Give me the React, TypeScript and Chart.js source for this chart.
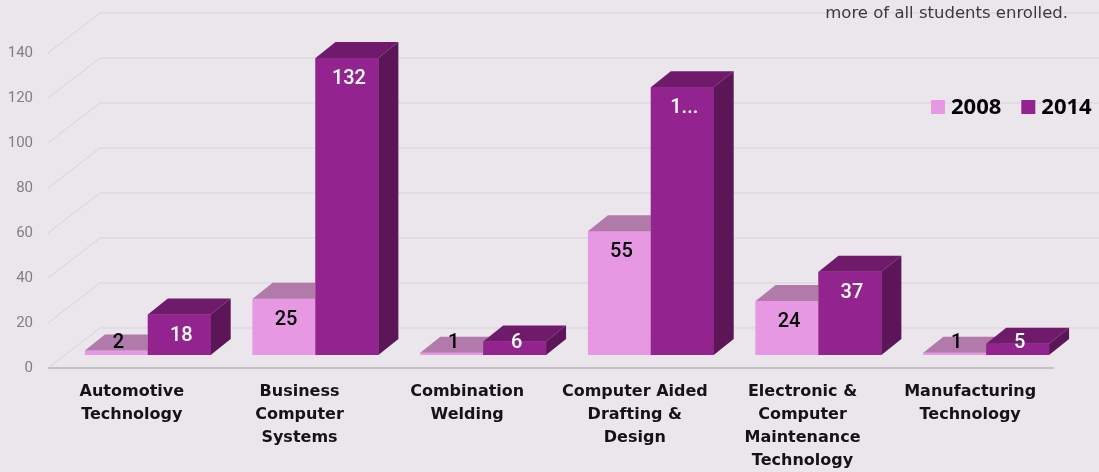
import { useEffect, useRef } from "react";
import { Chart, registerables } from "chart.js";

Chart.register(...registerables);

const categories: string[][] = [
  ["Automotive", "Technology"],
  ["Business", "Computer", "Systems"],
  ["Combination", "Welding"],
  ["Computer Aided", "Drafting &", "Design"],
  ["Electronic &", "Computer", "Maintenance", "Technology"],
  ["Manufacturing", "Technology"],
];
const seriesNames = ["2008", "2014"];
const values2008 = [2, 25, 1, 55, 24, 1];
const values2014 = [18, 132, 6, 119, 37, 5];
const labels2008 = ["2", "25", "1", "55", "24", "1"];
const labels2014 = ["18", "132", "6", "1...", "37", "5"];
const yMin = 0;
const yMax = 140;
const yStep = 20;
const subtitle = "more of all students enrolled.";

const BG = "#eae6ec";
const FRONT = ["#e699e2", "#93248f"];
const TOP = ["#b27aab", "#701a6c"];
const SIDE = ["#9b5e94", "#5c1658"];
const LABEL_COLOR = ["#000000", "#ffffff"];

// oblique depth of bars
const DX = 20;
const DY = 16;
// offsets of front plane and back wall relative to the bar plane
const FRONT_DX = -16;
const FRONT_DY = 13;
const BACK_DX = 36;
const BACK_DY = -27;

const threeDPlugin = {
  id: "threeD",
  beforeDraw(chart: any) {
    const { ctx, width, height } = chart;
    ctx.save();
    ctx.fillStyle = BG;
    ctx.fillRect(0, 0, width, height);
    ctx.restore();
  },
  beforeDatasetsDraw(chart: any) {
    const { ctx, chartArea, width } = chart;
    const ys = chart.scales.y;
    ctx.save();
    ctx.lineWidth = 1;
    ctx.strokeStyle = "#d9d3db";
    for (const t of ys.ticks) {
      const yb = ys.getPixelForValue(t.value);
      const fx = chartArea.left + FRONT_DX;
      const fy = yb + FRONT_DY;
      const bx = chartArea.left + BACK_DX;
      const by = yb + BACK_DY;
      ctx.beginPath();
      ctx.moveTo(fx, fy);
      ctx.lineTo(bx, by);
      ctx.lineTo(width, by);
      ctx.stroke();
    }
    // front floor edge
    const y0 = ys.getPixelForValue(0) + FRONT_DY;
    ctx.strokeStyle = "#c4c0c6";
    ctx.lineWidth = 2;
    ctx.beginPath();
    ctx.moveTo(chartArea.left + FRONT_DX, y0);
    ctx.lineTo(chartArea.right + FRONT_DX, y0);
    ctx.stroke();
    ctx.restore();
  },
  afterDatasetsDraw(chart: any) {
    const ctx = chart.ctx;
    const n = chart.data.labels.length;
    const nd = chart.data.datasets.length;
    ctx.save();
    for (let i = 0; i < n; i++) {
      for (let d = 0; d < nd; d++) {
        const bar = chart.getDatasetMeta(d).data[i];
        const { x, y, base, width } = bar.getProps(["x", "y", "base", "width"], true);
        const L = x - width / 2;
        const R = x + width / 2;
        bar.draw(ctx);
        ctx.fillStyle = TOP[d];
        ctx.beginPath();
        ctx.moveTo(L, y);
        ctx.lineTo(R, y);
        ctx.lineTo(R + DX, y - DY);
        ctx.lineTo(L + DX, y - DY);
        ctx.closePath();
        ctx.fill();
        ctx.fillStyle = SIDE[d];
        ctx.beginPath();
        ctx.moveTo(R, y);
        ctx.lineTo(R + DX, y - DY);
        ctx.lineTo(R + DX, base - DY);
        ctx.lineTo(R, base);
        ctx.closePath();
        ctx.fill();
      }
    }
    // data labels
    ctx.font = "500 20px Roboto";
    ctx.textAlign = "center";
    ctx.textBaseline = "middle";
    const labelSets = [labels2008, labels2014];
    for (let d = 0; d < nd; d++) {
      const meta = chart.getDatasetMeta(d);
      meta.data.forEach((bar: any, i: number) => {
        const { x, y, base } = bar.getProps(["x", "y", "base"], true);
        const ly = Math.min(y + 21, base - 12);
        ctx.fillStyle = LABEL_COLOR[d];
        ctx.fillText(labelSets[d][i], x + 2, ly);
      });
    }
    ctx.restore();
  },
  afterDraw(chart: any) {
    const ctx = chart.ctx;
    ctx.save();
    // subtitle
    ctx.font = "16.5px 'DejaVu Sans'";
    ctx.fillStyle = "#3a3a3a";
    ctx.textAlign = "right";
    ctx.textBaseline = "alphabetic";
    ctx.fillText(subtitle, 1068, 18);
    // legend
    ctx.font = "bold 22px 'Open Sans'";
    ctx.textAlign = "left";
    let lx = 931;
    const by = 100;
    chart.data.datasets.forEach((ds: any, d: number) => {
      ctx.fillStyle = ds.backgroundColor;
      ctx.fillRect(lx, by, 14, 14);
      lx += 20;
      ctx.fillStyle = "#000000";
      ctx.fillText(ds.label, lx, by + 14);
      lx += ctx.measureText(ds.label).width + 20;
    });
    ctx.restore();
  },
};

export default function App() {
  const ref = useRef<HTMLCanvasElement | null>(null);
  useEffect(() => {
    document.body.style.margin = "0";
    const canvas = ref.current;
    if (!canvas) return;
    const chart = new Chart(canvas, {
      type: "bar",
      data: {
        labels: categories,
        datasets: [
          { label: seriesNames[0], data: values2008, backgroundColor: FRONT[0], borderWidth: 0 },
          { label: seriesNames[1], data: values2014, backgroundColor: FRONT[1], borderWidth: 0 },
        ],
      },
      options: {
        responsive: false,
        animation: false,
        devicePixelRatio: 1,
        layout: { padding: { top: 40, right: 29, left: 0, bottom: 0 } },
        datasets: { bar: { categoryPercentage: 0.75, barPercentage: 1 } },
        plugins: {
          legend: { display: false },
          tooltip: { enabled: false },
          title: { display: false },
        },
        scales: {
          x: {
            grid: { display: false, drawTicks: false },
            border: { display: false },
            ticks: {
              padding: 25,
              labelOffset: FRONT_DX,
              color: "#141414",
              autoSkip: false,
              maxRotation: 0,
              font: { family: "'DejaVu Sans'", weight: "bold", size: 16, lineHeight: 1.44 },
            },
            afterFit: (s: any) => {
              s.height = 117;
            },
          },
          y: {
            min: yMin,
            max: yMax,
            grid: { display: false, drawTicks: false },
            border: { display: false },
            ticks: {
              stepSize: yStep,
              padding: 31,
              labelOffset: FRONT_DY,
              color: "#808080",
              font: { family: "Roboto", size: 15 },
            },
            afterFit: (s: any) => {
              s.width = 64;
            },
          },
        },
      } as any,
      plugins: [threeDPlugin],
    });
    return () => chart.destroy();
  }, []);
  return (
    <div style={{ width: 1099, height: 472 }}>
      <canvas ref={ref} width={1099} height={472} style={{ display: "block" }} />
    </div>
  );
}
